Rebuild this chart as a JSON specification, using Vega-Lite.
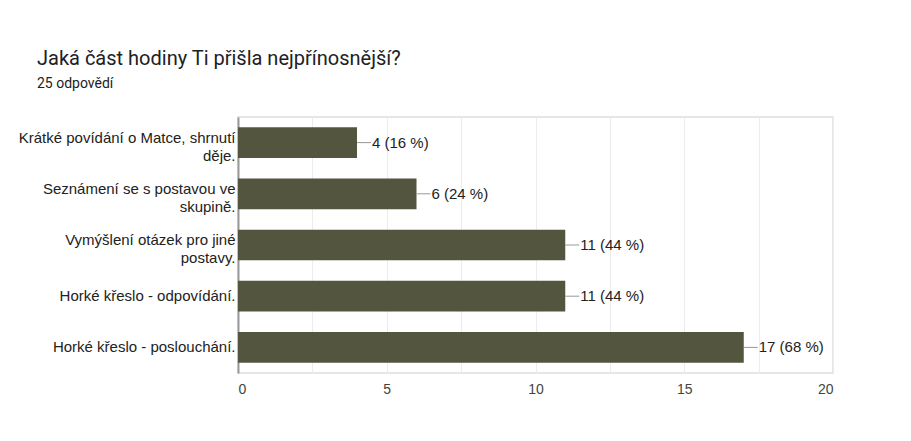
{
  "$schema": "https://vega.github.io/schema/vega-lite/v6.json",
  "width": 595,
  "height": 256,
  "autosize": {"type": "none"},
  "padding": {"left": 238, "top": 117, "right": 78, "bottom": 68},
  "background": "white",
  "title": {
    "text": "Jaká část hodiny Ti přišla nejpřínosnější?",
    "subtitle": "25 odpovědí",
    "anchor": "start",
    "frame": "group",
    "dx": -201,
    "offset": 26,
    "font": "Roboto",
    "fontSize": 20,
    "fontWeight": "normal",
    "color": "#202124",
    "subtitleFont": "Roboto",
    "subtitleFontSize": 14,
    "subtitleColor": "#202124",
    "subtitlePadding": 8
  },
  "data": {
    "values": [
      {"answer": "Krátké povídání o Matce, shrnutí|děje.", "count": 4, "label": "4 (16 %)"},
      {"answer": "Seznámení se s postavou ve|skupině.", "count": 6, "label": "6 (24 %)"},
      {"answer": "Vymýšlení otázek pro jiné|postavy.", "count": 11, "label": "11 (44 %)"},
      {"answer": "Horké křeslo - odpovídání.", "count": 11, "label": "11 (44 %)"},
      {"answer": "Horké křeslo - poslouchání.", "count": 17, "label": "17 (68 %)"}
    ]
  },
  "encoding": {
    "y": {
      "field": "answer",
      "type": "nominal",
      "sort": null,
      "scale": {"paddingInner": 0.4, "paddingOuter": 0.2},
      "axis": {
        "title": null,
        "labelExpr": "split(datum.label, '|')",
        "labelFont": "Liberation Sans",
        "labelFontSize": 15,
        "labelColor": "#222222",
        "labelLineHeight": 18,
        "labelOffset": {"condition": {"test": "indexof(datum.value, '|') >= 0", "value": -5}, "value": 0},
        "labelLimit": 240,
        "labelPadding": 3,
        "ticks": false,
        "domain": true,
        "domainColor": "#999999",
        "domainWidth": 2,
        "grid": false
      }
    }
  },
  "layer": [
    {
      "mark": {"type": "bar", "color": "#53553F"},
      "encoding": {
        "x": {
          "field": "count",
          "type": "quantitative",
          "scale": {"domain": [0, 20], "nice": false},
          "axis": {
            "title": null,
            "values": [0, 2.5, 5, 7.5, 10, 12.5, 15, 17.5, 20],
            "labelExpr": "datum.value % 5 == 0 ? datum.label : ''",
            "labelFont": "Liberation Sans",
            "labelFontSize": 14,
            "labelColor": "#444444",
            "labelPadding": 9,
            "ticks": false,
            "domain": false,
            "grid": true,
            "gridColor": "#ececec",
            "gridWidth": 1
          }
        }
      }
    },
    {
      "mark": {"type": "rule", "color": "#999999", "strokeWidth": 1, "x2Offset": 14},
      "encoding": {
        "x": {"field": "count", "type": "quantitative"},
        "x2": {"field": "count"}
      }
    },
    {
      "mark": {"type": "text", "align": "left", "baseline": "middle", "dx": 15, "font": "Liberation Sans", "fontSize": 15, "color": "#222222"},
      "encoding": {
        "x": {"field": "count", "type": "quantitative"},
        "text": {"field": "label"}
      }
    }
  ],
  "config": {
    "view": {"stroke": "#e6e6e6", "strokeWidth": 2}
  }
}
